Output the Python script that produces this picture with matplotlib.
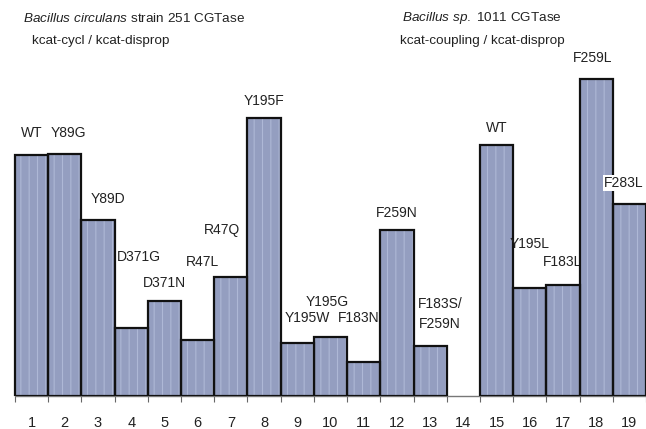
import matplotlib
matplotlib.use("Agg")
import matplotlib.pyplot as plt

plt.rcParams['font.family'] = ['Liberation Sans', 'DejaVu Sans']
plt.rcParams['mathtext.fontset'] = 'custom'
plt.rcParams['mathtext.rm'] = 'Liberation Sans'
plt.rcParams['mathtext.it'] = 'Liberation Sans:italic'
plt.rcParams['hatch.linewidth'] = 0.8

# ---- data ----
positions = [1, 2, 3, 4, 5, 6, 7, 8, 9, 10, 11, 12, 13, 15, 16, 17, 18, 19]
values = [241, 242, 176, 68, 95, 56, 119, 278, 53, 59, 34, 166, 50,
          251, 108, 111, 317, 192]
mutants = ['WT', 'Y89G', 'Y89D', 'D371G', 'D371N', 'R47L', 'R47Q', 'Y195F',
           'Y195W', 'Y195G', 'F183N', 'F259N', 'F183S/\nF259N',
           'WT', 'Y195L', 'F183L', 'F259L', 'F283L']
tick_labels = [str(i) for i in range(1, 20)]
title_left = [r'$\it{Bacillus\ circulans}$ strain 251 CGTase', 'kcat-cycl / kcat-disprop']
title_right = [r'$\it{Bacillus\ sp.}$ 1011 CGTase', 'kcat-coupling / kcat-disprop']

# ---- layout (label offsets: dx in bar units, dy above bar top in data units) ----
label_dx = [0, 0.12, 0.3, 0.23, 0, 0.15, -0.28, 0, 0.3, -0.1, -0.14, 0, 0.3,
            0, 0, -0.02, -0.12, -0.17]
label_dy = [22, 21, 21, 71, 18, 78, 47, 17, 25, 35, 44, 17, 32,
            17, 44, 23, 21, 21]

W, H = 646, 429
fig = plt.figure(figsize=(W / 100, H / 100), dpi=100)
base = 396
ax = fig.add_axes([0, (H - base) / H, 1, base / H])
ax.set_ylim(0, base)
px = 33.3
x0 = 0.5 - 15 / px
x1 = 0.5 + (W - 15) / px
ax.set_xlim(x0, x1)

bar_color = '#949ec0'
ax.bar(positions, values, width=1.0, color=bar_color, edgecolor='#aeb8d6',
       linewidth=0, hatch='||', zorder=3)
ax.bar(positions, values, width=1.0, fill=False, edgecolor='#111111',
       linewidth=1.6, zorder=3.5)

for p, v, lab, dx, dy in zip(positions, values, mutants, label_dx, label_dy):
    kw = {}
    z = 4
    if lab == 'F283L':
        kw['bbox'] = dict(boxstyle='square,pad=0.1', fc='white', ec='none')
    if lab == 'F183L':
        z = 2
    ax.text(p + dx, v + dy, lab, ha='center', va='center', fontsize=10,
            color='#222222', zorder=z, linespacing=1.5, **kw)

for s in ['top', 'left', 'right']:
    ax.spines[s].set_visible(False)
ax.spines['bottom'].set_bounds(0.5, 19.5)
ax.spines['bottom'].set_color('#777777')
ax.spines['bottom'].set_linewidth(1.0)
ax.set_yticks([])
ax.set_xticks(range(1, 20))
ax.set_xticklabels(tick_labels, fontsize=10.5, color='#222222')
ax.tick_params(axis='x', which='major', length=0, pad=14.5)
ax.set_xticks([i + 0.5 for i in range(0, 20)], minor=True)
ax.tick_params(axis='x', which='minor', length=4, width=0.8, color='#666666')

fs_t = 9.7
fig.text(23 / W, 1 - 19 / H, title_left[0], fontsize=fs_t, color='#222222', va='center', ha='left')
fig.text(32 / W, 1 - 41 / H, title_left[1], fontsize=fs_t, color='#222222', va='center', ha='left')
fig.text(402 / W, 1 - 18 / H, title_right[0], fontsize=fs_t, color='#222222', va='center', ha='left')
fig.text(400 / W, 1 - 41 / H, title_right[1], fontsize=fs_t, color='#222222', va='center', ha='left')

fig.savefig('out.png', dpi=100)
